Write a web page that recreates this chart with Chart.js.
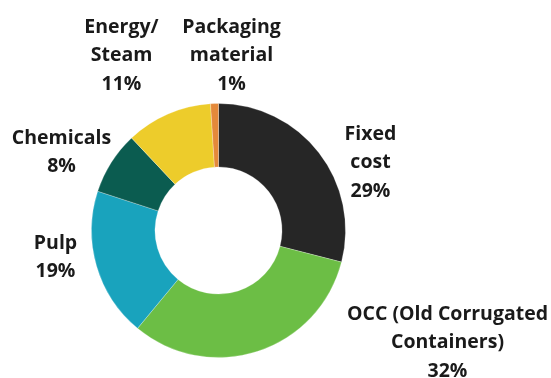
<!DOCTYPE html>
<html>
<head>
<meta charset="utf-8">
<script src="https://cdn.jsdelivr.net/npm/chart.js@4/dist/chart.umd.min.js"></script>
<style>
  html, body { margin: 0; padding: 0; background: #fff; }
  #costChart { display: block; }
</style>
</head>
<body>
<canvas id="costChart" width="551" height="378"></canvas>
<script>
// Cost breakdown, clockwise from 12 o'clock
const categories = ['Fixed cost', 'OCC (Old Corrugated Containers)', 'Pulp', 'Chemicals', 'Energy/Steam', 'Packaging material'];
const shares = [29, 32, 19, 8, 11, 1];
const labelLines = [
  ['Fixed', 'cost'],
  ['OCC (Old Corrugated', 'Containers)'],
  ['Pulp'],
  ['Chemicals'],
  ['Energy/', 'Steam'],
  ['Packaging', 'material']
];
const sliceColors = ['#262626', '#6cbe45', '#19a3bd', '#0b5c50', '#edcc2b', '#e4893a'];

// where each label block sits, relative to the ring centre
const labelOffsets = [
  { dx: 152, dy: -68 },
  { dx: 229, dy: 112 },
  { dx: -163, dy: 27 },
  { dx: -157, dy: -78 },
  { dx: -97, dy: -175 },
  { dx: 13, dy: -175 }
];

const outsideLabels = {
  id: 'outsideLabels',
  afterDatasetsDraw(chart) {
    const { ctx } = chart;
    const meta = chart.getDatasetMeta(0);
    const lineHeight = 28.5;
    ctx.save();
    ctx.font = 'bold 19.5px "Open Sans", sans-serif';
    ctx.fillStyle = '#1a1a1a';
    ctx.textAlign = 'center';
    ctx.textBaseline = 'middle';
    meta.data.forEach((arc, i) => {
      const lines = labelLines[i].concat(shares[i] + '%');
      const off = labelOffsets[i];
      const x = arc.x + off.dx;
      const top = arc.y + off.dy - (lines.length - 1) * lineHeight / 2;
      lines.forEach((line, j) => ctx.fillText(line, x, top + j * lineHeight));
    });
    ctx.restore();
  }
};

new Chart(document.getElementById('costChart'), {
  type: 'doughnut',
  data: {
    labels: categories,
    datasets: [{
      data: shares,
      backgroundColor: sliceColors,
      borderColor: 'rgba(255, 255, 255, 0.25)',
      borderWidth: 1
    }]
  },
  options: {
    responsive: false,
    animation: false,
    cutout: '50%',
    layout: { padding: { left: 91, right: 205, top: 103, bottom: 20 } },
    plugins: {
      legend: { display: false },
      tooltip: { enabled: false }
    }
  },
  plugins: [outsideLabels]
});
</script>
</body>
</html>
